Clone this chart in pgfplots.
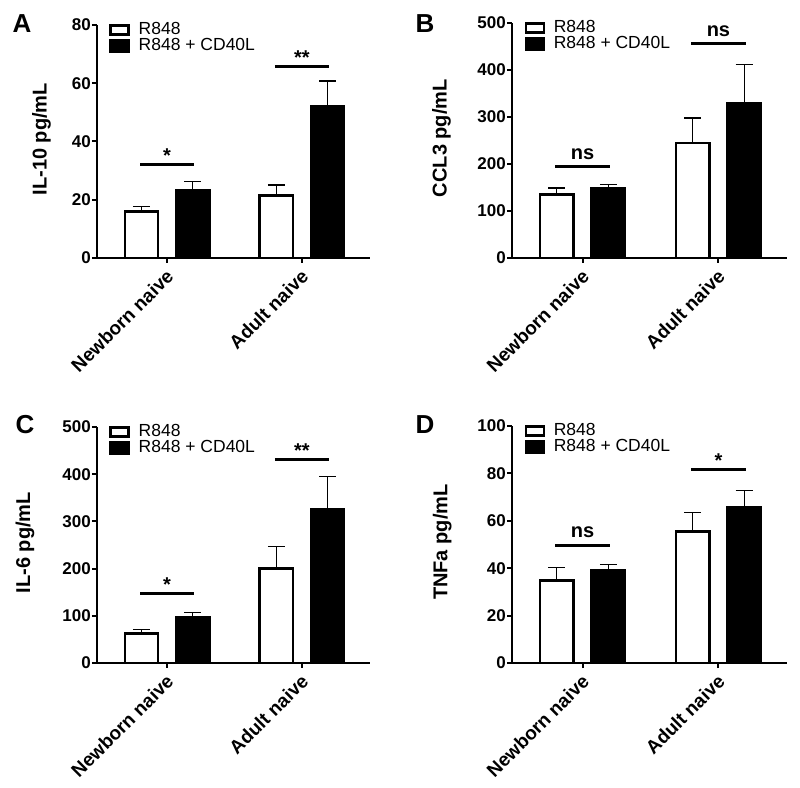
\documentclass[border=0pt]{standalone}
\usepackage{pgfplots}
\pgfplotsset{compat=1.18}
\usepackage{fontspec}
\setmainfont{Liberation Sans}
\pgfplotsset{
 panel/.style={
  scale only axis, axis lines=left, axis line style={-, line width=2.6pt},
  xmin=-0.52, xmax=1.505, ymin=0,
  xtick={0,1}, xticklabels={Newborn naive, Adult naive},
  tick align=outside, major tick length=5pt,
  major tick style={line width=2pt, black},
  /pgf/number format/assume math mode=true,
  yticklabel style={font=\bfseries\fontsize{17}{17}\selectfont, inner sep=1pt},
  xticklabel style={font=\bfseries\fontsize{19}{19}\selectfont, rotate=45, anchor=north east, inner sep=2pt, xshift=-3pt},
  ylabel style={font=\bfseries\fontsize{20}{20}\selectfont, anchor=center},
  legend style={draw=none, fill=none, font=\fontsize{17.5}{17.5}\selectfont, anchor=north west,
    at={(axis description cs:0.045,1.01)}, row sep=1pt, inner sep=0pt,
    nodes={inner sep=0pt, text height=12pt, text depth=3pt}},
  legend cell align=left,
  clip=false,
 },
 ebar/.style={error bars/.cd, y dir=plus, y explicit,
   error bar style={line width=1.3pt, black},
   error mark options={rotate=90, line width=1.3pt, mark size=8.5pt, black}},
 wbar/.style={ybar, bar width=0.245, bar shift=0, fill=white, draw=black, line width=2.6pt, forget plot, ebar},
 kbar/.style={ybar, bar width=0.245, bar shift=0, fill=black, draw=black, line width=2.6pt, forget plot, ebar},
 sig/.style={line width=3pt, black, forget plot},
 legwhite/.style={legend image code/.code={\draw[line width=2.5pt, fill=white, draw=black] (1pt,-4pt) rectangle (19pt,5pt);\path[draw=none, fill=none] (0pt,0pt) -- (29pt,0pt);}},
 legblack/.style={legend image code/.code={\draw[line width=2.5pt, fill=black, draw=black] (1pt,-5pt) rectangle (19pt,6pt);\path[draw=none, fill=none] (0pt,0pt) -- (29pt,0pt);}},
}
\newcommand{\starfont}{\bfseries\fontsize{20}{20}\selectfont}
\begin{document}
\begin{tikzpicture}
\useasboundingbox (0,0) rectangle (800pt,787pt);
% ---------- A ----------
\begin{axis}[panel, at={(97pt,529pt)}, anchor=south west, width=273pt, height=233pt,
  ymax=80, ytick={0,20,40,60,80}, ylabel={IL-10 pg/mL},
  ylabel style={at={(axis description cs:-0.203,0.51)}}]
\addplot[wbar] table[x=x, y=y, y error=e] {
x y e
-0.19 16 1.7
0.81 21.4 3.7
};
\addplot[kbar] table[x=x, y=y, y error=e] {
x y e
0.19 23.4 2.9
1.19 52 8.8
};
\addlegendimage{legwhite}\addlegendentry{R848}
\addlegendimage{legblack}\addlegendentry{R848 + CD40L}
\addplot[sig] coordinates {(-0.2,32) (0.2,32)};
\addplot[sig] coordinates {(0.8,65.7) (1.2,65.7)};
\node[anchor=base, font=\starfont, yshift=2pt] at (axis cs:0,32) {*};
\node[anchor=base, font=\starfont, yshift=2pt] at (axis cs:1,65.7) {**};
\end{axis}
% ---------- B ----------
\begin{axis}[panel, at={(512pt,529pt)}, anchor=south west, width=275pt, height=235pt,
  ymax=500, ytick={0,100,200,300,400,500}, ylabel={CCL3 pg/mL},
  ylabel style={at={(axis description cs:-0.256,0.51)}}]
\addplot[wbar] table[x=x, y=y, y error=e] {
x y e
-0.19 135 14
0.81 245 53
};
\addplot[kbar] table[x=x, y=y, y error=e] {
x y e
0.19 147.5 8.5
1.19 330 81
};
\addlegendimage{legwhite}\addlegendentry{R848}
\addlegendimage{legblack}\addlegendentry{R848 + CD40L}
\addplot[sig] coordinates {(-0.2,195) (0.2,195)};
\addplot[sig] coordinates {(0.8,457) (1.2,457)};
\node[anchor=base, font=\starfont, yshift=7pt] at (axis cs:0,195) {ns};
\node[anchor=base, font=\starfont, yshift=7pt] at (axis cs:1,457) {ns};
\end{axis}
% ---------- C ----------
\begin{axis}[panel, at={(97pt,124pt)}, anchor=south west, width=273pt, height=236pt,
  ymax=500, ytick={0,100,200,300,400,500}, ylabel={IL-6 pg/mL},
  ylabel style={at={(axis description cs:-0.264,0.51)}}]
\addplot[wbar] table[x=x, y=y, y error=e] {
x y e
-0.19 62 8.6
0.81 200 47
};
\addplot[kbar] table[x=x, y=y, y error=e] {
x y e
0.19 97.5 9
1.19 325 70.5
};
\addlegendimage{legwhite}\addlegendentry{R848}
\addlegendimage{legblack}\addlegendentry{R848 + CD40L}
\addplot[sig] coordinates {(-0.2,147) (0.2,147)};
\addplot[sig] coordinates {(0.8,431) (1.2,431)};
\node[anchor=base, font=\starfont, yshift=2pt] at (axis cs:0,147) {*};
\node[anchor=base, font=\starfont, yshift=2pt] at (axis cs:1,431) {**};
\end{axis}
% ---------- D ----------
\begin{axis}[panel, at={(512pt,124pt)}, anchor=south west, width=275pt, height=237pt,
  ymax=100, ytick={0,20,40,60,80,100}, ylabel={TNFa pg/mL},
  ylabel style={at={(axis description cs:-0.254,0.51)}}]
\addplot[wbar] table[x=x, y=y, y error=e] {
x y e
-0.19 34.8 5.5
0.81 55.5 8
};
\addplot[kbar] table[x=x, y=y, y error=e] {
x y e
0.19 39 2.7
1.19 65.6 7.2
};
\addlegendimage{legwhite}\addlegendentry{R848}
\addlegendimage{legblack}\addlegendentry{R848 + CD40L}
\addplot[sig] coordinates {(-0.2,49.6) (0.2,49.6)};
\addplot[sig] coordinates {(0.8,81.5) (1.2,81.5)};
\node[anchor=base, font=\starfont, yshift=8pt] at (axis cs:0,49.6) {ns};
\node[anchor=base, font=\starfont, yshift=2pt] at (axis cs:1,81.5) {*};
\end{axis}
% panel letters
\node[font=\bfseries\fontsize{26}{26}\selectfont] at (22pt,763pt) {A};
\node[font=\bfseries\fontsize{26}{26}\selectfont] at (425pt,763pt) {B};
\node[font=\bfseries\fontsize{26}{26}\selectfont] at (25pt,362pt) {C};
\node[font=\bfseries\fontsize{26}{26}\selectfont] at (425pt,362pt) {D};
\end{tikzpicture}
\end{document}
